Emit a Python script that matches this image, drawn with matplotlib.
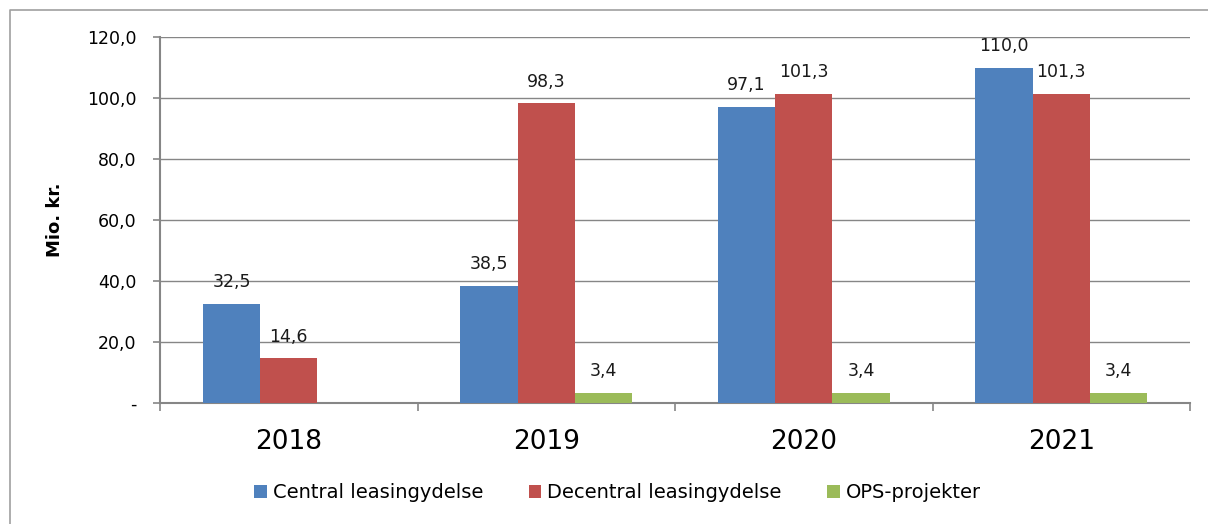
import matplotlib.pyplot as plt
from matplotlib.lines import Line2D
import numpy as np

# Data
years = ['2018', '2019', '2020', '2021']
central = [32.5, 38.5, 97.1, 110.0]
decentral = [14.6, 98.3, 101.3, 101.3]
ops = [0, 3.4, 3.4, 3.4]
series_names = ['Central leasingydelse', 'Decentral leasingydelse', 'OPS-projekter']
colors = ['#4F81BD', '#C0504D', '#9BBB59']

plt.rcParams['font.family'] = ['DejaVu Sans']

fig = plt.figure(figsize=(12.08, 5.24), dpi=100)
ax = fig.add_axes([160 / 1208, 1 - 403 / 524, 1030 / 1208, 366 / 524])

# outer chart frame: only left and top edges are visible in the original
fx, fy = 9.5 / 1208, 1 - 9.5 / 524
fig.add_artist(Line2D([fx, fx, 1.0], [0.0, fy, fy], transform=fig.transFigure,
                      color='#a0a0a0', linewidth=1.2))

x = np.arange(len(years))
width = 1 / 4.5
grey = '#868686'

for i, (vals, name) in enumerate(zip([central, decentral, ops], series_names)):
    pos = x + (i - 1) * width
    ax.bar(pos, vals, width, color=colors[i], label=name, zorder=3)
    for px, v in zip(pos, vals):
        if v == 0:
            continue
        ax.annotate(f'{v:.1f}'.replace('.', ','), (px, v), xytext=(0, 12),
                    textcoords='offset points', ha='center', va='baseline',
                    fontsize=12.5, color='#1a1a1a', clip_on=False)

ax.set_xlim(-0.5, 3.5)
ax.set_ylim(0, 120)
ax.set_yticks(np.arange(0, 121, 20))
ax.set_yticklabels(['-'] + [f'{v:.1f}'.replace('.', ',') for v in range(20, 121, 20)])
ax.yaxis.grid(True, color=grey, linewidth=1.0, zorder=0)
ax.set_axisbelow(True)

ax.set_xticks(x)
ax.set_xticklabels(years, fontsize=19)
ax.set_xticks(np.arange(-0.5, 3.6, 1), minor=True)
ax.tick_params(axis='x', which='major', length=0, pad=19)
ax.tick_params(axis='x', which='minor', length=6, width=1.2, color=grey)
ax.tick_params(axis='y', length=5, width=1.2, color=grey, pad=12, labelsize=12.5)

for s in ['top', 'right']:
    ax.spines[s].set_visible(False)
for s in ['left', 'bottom']:
    ax.spines[s].set_color(grey)
    ax.spines[s].set_linewidth(1.5)

ax.set_ylabel('Mio. kr.', fontsize=13, fontweight='bold')
ax.yaxis.set_label_coords(-96 / 1030, 0.5)

fig.legend(loc='center', bbox_to_anchor=(617.5 / 1208, 1 - 493 / 524), ncol=3,
           frameon=False, fontsize=14, handlelength=0.65, handleheight=0.65,
           handletextpad=0.3, columnspacing=2.35, borderpad=0)

fig.savefig('out.png', dpi=100)
